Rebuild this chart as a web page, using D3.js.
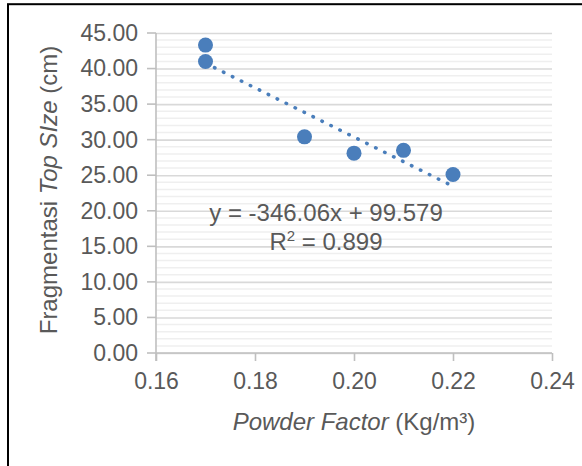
<!DOCTYPE html>
<html>
<head>
<meta charset="utf-8">
<script src="https://cdn.jsdelivr.net/npm/d3@7"></script>
<style>
  html, body { margin: 0; padding: 0; background: #fff; }
  svg { display: block; }
  text { font-family: "Liberation Sans", Arial, sans-serif; fill: #595959; }
</style>
</head>
<body>
<svg id="chart" width="582" height="466"></svg>
<script>
// ---- data ----
const powderFactor = [0.17, 0.17, 0.19, 0.20, 0.21, 0.22];
const topSize = [43.3, 41.0, 30.4, 28.1, 28.5, 25.1];
const xTicks = [0.16, 0.18, 0.20, 0.22, 0.24];
const yTicks = [0, 5, 10, 15, 20, 25, 30, 35, 40, 45];
const yMinorStep = 1;
const trendSlope = -346.06;
const trendIntercept = 99.579;
const rSquared = 0.899;
const equationLabel = ["y = -346.06x + 99.579", "R² = 0.899"];

// ---- layout ----
const svg = d3.select("#chart");
const plotL = 156, plotR = 552, plotT = 33, plotB = 353;
const fontSize = 23;
const titleSize = 24;

const x = d3.scaleLinear().domain([0.16, 0.24]).range([plotL, plotR]);
const y = d3.scaleLinear().domain([0, 45]).range([plotB, plotT]);

// outer border
svg.append("rect")
  .attr("x", 8).attr("y", 4.2)
  .attr("width", 700).attr("height", 600)
  .attr("fill", "none").attr("stroke", "#000").attr("stroke-width", 2);

// minor gridlines
const minorVals = d3.range(0, 45 + 1e-9, yMinorStep).filter(v => yTicks.indexOf(v) < 0);
svg.append("g").selectAll("line").data(minorVals).join("line")
  .attr("x1", plotL).attr("x2", plotR)
  .attr("y1", d => y(d)).attr("y2", d => y(d))
  .attr("stroke", "#efefef").attr("stroke-width", 1.5);

// major gridlines + y axis
const yAxis = d3.axisLeft(y).tickValues(yTicks)
  .tickFormat(d3.format(".2f"))
  .tickSize(-(plotR - plotL)).tickPadding(18);
const gy = svg.append("g").attr("transform", `translate(${plotL},0)`).call(yAxis);
gy.select(".domain").remove();
gy.selectAll(".tick line").attr("stroke", "#d9d9d9").attr("stroke-width", 1.6);
gy.selectAll(".tick text")
  .attr("font-size", fontSize).attr("fill", "#595959")
  .attr("font-family", "Liberation Sans, Arial, sans-serif");
// small outer tick marks on left
svg.append("g").selectAll("line").data(yTicks).join("line")
  .attr("x1", plotL - 9).attr("x2", plotL)
  .attr("y1", d => y(d)).attr("y2", d => y(d))
  .attr("stroke", "#bfbfbf").attr("stroke-width", 1.6);
// y axis line
svg.append("line")
  .attr("x1", plotL).attr("x2", plotL)
  .attr("y1", plotT).attr("y2", plotB + 8)
  .attr("stroke", "#bfbfbf").attr("stroke-width", 1.6);

// x axis
const xAxis = d3.axisBottom(x).tickValues(xTicks)
  .tickFormat(d3.format(".2f")).tickSize(8).tickPadding(12);
const gx = svg.append("g").attr("transform", `translate(0,${plotB})`).call(xAxis);
gx.select(".domain").attr("stroke", "#bfbfbf").attr("stroke-width", 1.6)
  .attr("d", `M${plotL},0H${plotR}`);
gx.selectAll(".tick line").attr("stroke", "#bfbfbf").attr("stroke-width", 1.6);
gx.selectAll(".tick text")
  .attr("font-size", fontSize).attr("fill", "#595959")
  .attr("font-family", "Liberation Sans, Arial, sans-serif");

// trendline
const xs = d3.extent(powderFactor);
svg.append("line")
  .attr("x1", x(xs[0])).attr("y1", y(trendSlope * xs[0] + trendIntercept))
  .attr("x2", x(xs[1])).attr("y2", y(trendSlope * xs[1] + trendIntercept))
  .attr("stroke", "#4a7ebb").attr("stroke-width", 3.5)
  .attr("stroke-linecap", "round")
  .attr("stroke-dasharray", "0.5 9.5");

// points
svg.append("g").selectAll("circle").data(powderFactor).join("circle")
  .attr("cx", (d) => x(d))
  .attr("cy", (d, i) => y(topSize[i]))
  .attr("r", 7.5)
  .attr("fill", "#4a7ebb");

// equation labels
const eq = svg.append("text").attr("font-size", titleSize).attr("text-anchor", "middle");
eq.append("tspan").attr("x", 326).attr("y", 221).text(equationLabel[0]);
const r2 = svg.append("text").attr("font-size", titleSize).attr("text-anchor", "middle")
  .attr("x", 326).attr("y", 250);
r2.append("tspan").text("R");
r2.append("tspan").attr("font-size", 15).attr("dy", -9).text("2");
r2.append("tspan").attr("dy", 9).text(" = " + rSquared.toFixed(3));

// y title
const yt = svg.append("text").attr("font-size", titleSize).attr("text-anchor", "middle")
  .attr("transform", "translate(57,190) rotate(-90)");
yt.append("tspan").text("Fragmentasi ");
yt.append("tspan").attr("font-style", "italic").text("Top SIze");
yt.append("tspan").text(" (cm)");

// x title
const xt = svg.append("text").attr("font-size", titleSize).attr("text-anchor", "middle")
  .attr("x", 354).attr("y", 430);
xt.append("tspan").attr("font-style", "italic").text("Powder Factor");
xt.append("tspan").text(" (Kg/m³)");
</script>
</body>
</html>
